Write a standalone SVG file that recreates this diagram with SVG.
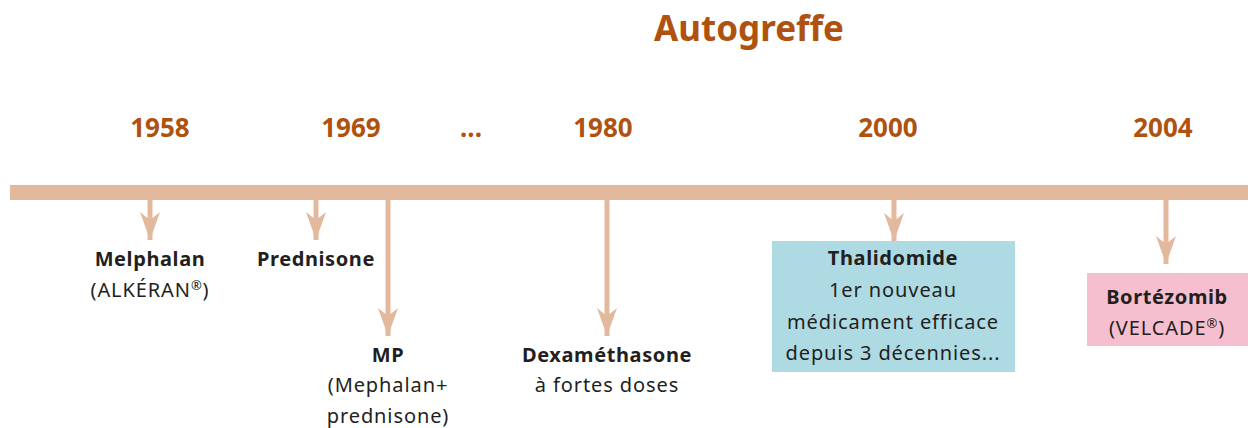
<svg xmlns="http://www.w3.org/2000/svg" width="1248" height="428" viewBox="0 0 1248 428">
<defs>
<marker id="ah" viewBox="0 0 28 20" refX="28" refY="10" markerWidth="28" markerHeight="20" markerUnits="userSpaceOnUse" orient="auto">
<path d="M0,0 L8,10 L0,20 L28,10 Z" fill="#E3B99E"/>
</marker>
<style>
.title{font-family:"Noto Sans",sans-serif;font-weight:bold;fill:#B0520F;text-anchor:middle}
.b{font-family:"Noto Sans",sans-serif;font-weight:bold;font-size:20px;letter-spacing:0.6px;fill:#231F20;text-anchor:middle}
.r{font-family:"Noto Sans",sans-serif;font-size:20px;letter-spacing:0.9px;fill:#231F20;text-anchor:middle}
.conn{stroke:#E3B99E;stroke-width:5;fill:none}
</style>
</defs>
<rect width="1248" height="428" fill="#FFFFFF"/>
<text class="title" x="749" y="41" font-size="35">Autogreffe</text>
<g id="years" class="title" font-size="26">
<text x="160" y="137">1958</text>
<text x="351" y="137">1969</text>
<text x="471" y="137">...</text>
<text x="603" y="137">1980</text>
<text x="888" y="137">2000</text>
<text x="1163" y="137">2004</text>
</g>
<rect id="timeline" x="10" y="185" width="1238" height="15" fill="#E3B99E"/>
<g id="connectors">
<line class="conn" x1="150" y1="199" x2="150" y2="240" marker-end="url(#ah)"/>
<line class="conn" x1="316" y1="199" x2="316" y2="240" marker-end="url(#ah)"/>
<line class="conn" x1="388" y1="199" x2="388" y2="336" marker-end="url(#ah)"/>
<line class="conn" x1="607" y1="199" x2="607" y2="336" marker-end="url(#ah)"/>
<line class="conn" x1="894" y1="199" x2="894" y2="241" marker-end="url(#ah)"/>
<line class="conn" x1="1166" y1="199" x2="1166" y2="264" marker-end="url(#ah)"/>
</g>
<g id="melphalan">
<text class="b" x="150" y="266">Melphalan</text>
<text class="r" x="150" y="297">(ALKÉRAN<tspan font-size="13" dy="-7">®</tspan><tspan dy="7">)</tspan></text>
</g>
<g id="prednisone">
<text class="b" x="316" y="266">Prednisone</text>
</g>
<g id="mp">
<text class="b" x="388" y="362">MP</text>
<text class="r" x="388" y="392">(Mephalan+</text>
<text class="r" x="388" y="423">prednisone)</text>
</g>
<g id="dexamethasone">
<text class="b" x="607" y="362">Dexaméthasone</text>
<text class="r" x="607" y="392">à fortes doses</text>
</g>
<g id="thalidomide">
<rect x="772" y="241" width="243" height="131" fill="#ADDAE3"/>
<text class="b" x="893" y="265">Thalidomide</text>
<text class="r" x="893" y="297">1er nouveau</text>
<text class="r" x="893" y="329">médicament efficace</text>
<text class="r" x="893" y="360">depuis 3 décennies...</text>
</g>
<g id="bortezomib">
<rect x="1087" y="273" width="161" height="73" fill="#F5BFD0"/>
<text class="b" x="1167" y="304">Bortézomib</text>
<text class="r" x="1167" y="335">(VELCADE<tspan font-size="13" dy="-7">®</tspan><tspan dy="7">)</tspan></text>
</g>
</svg>
